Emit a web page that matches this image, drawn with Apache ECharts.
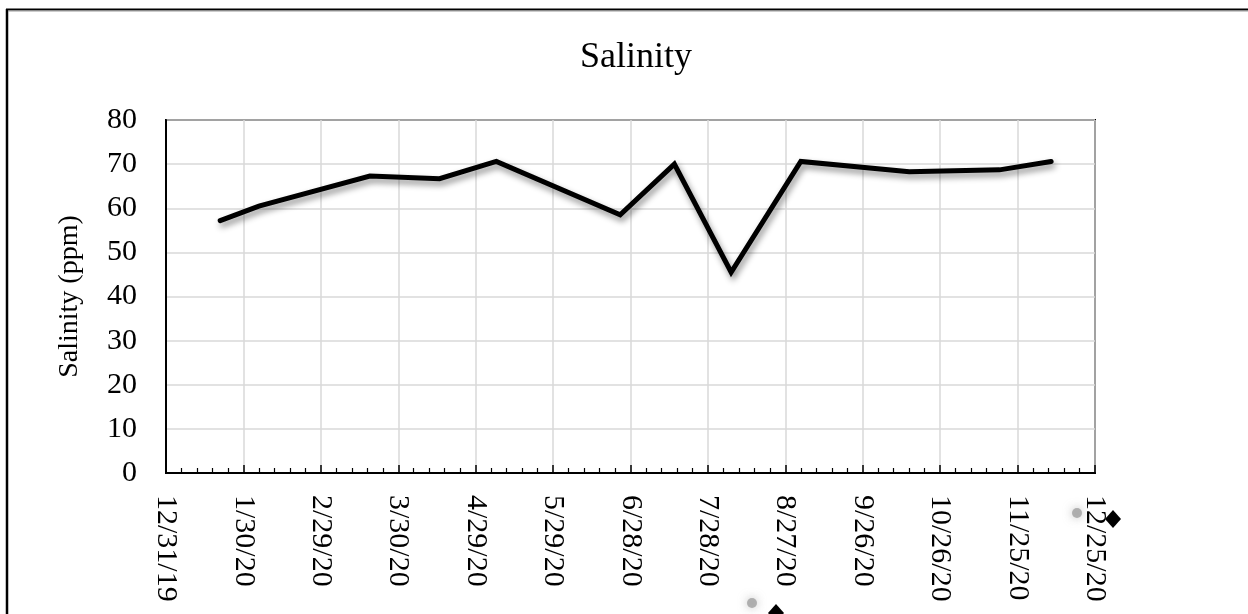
<!DOCTYPE html>
<html>
<head>
<meta charset="utf-8">
<script src="https://cdn.jsdelivr.net/npm/echarts@6/dist/echarts.min.js"></script>
<style>
  html, body { margin: 0; padding: 0; background: #fff; }
  #chart { width: 1248px; height: 614px; }
</style>
</head>
<body>
<div id="chart"></div>
<script>
// sample dates and readings
const startDate = '2019-12-31';
const sampleDates = ['2020-01-21', '2020-02-05', '2020-03-19', '2020-04-15', '2020-05-07', '2020-06-24',
  '2020-07-15', '2020-08-06', '2020-09-02', '2020-10-14', '2020-11-18', '2020-12-08'];
const salinity = [57.2, 60.5, 67.3, 66.7, 70.6, 58.5, 70.0, 45.5, 70.6, 68.3, 68.7, 70.6];

// tick labels on the date axis (every 30 days)
const xTickLabels = ['12/31/19', '1/30/20', '2/29/20', '3/30/20', '4/29/20', '5/29/20', '6/28/20',
  '7/28/20', '8/27/20', '9/26/20', '10/26/20', '11/25/20', '12/25/20'];
const tickDays = 30;
const yTicks = [0, 10, 20, 30, 40, 50, 60, 70, 80];

const DAY = 86400000;
function dayOf(s) {
  return (Date.parse(s) - Date.parse(startDate)) / DAY;
}
const points = sampleDates.map((d, i) => [dayOf(d), salinity[i]]);

const font = '"Liberation Serif", "Times New Roman", serif';
let myChart = echarts.init(document.getElementById('chart'));

let option = {
  backgroundColor: '#fff',
  animation: false,
  title: {
    text: 'Salinity',
    left: 631,
    top: 35,
    textAlign: 'center',
    textStyle: { fontFamily: font, fontSize: 36, fontWeight: 'normal', color: '#000' }
  },
  grid: {
    left: 166, right: 153, top: 120, bottom: 141,
    show: true, borderColor: '#000', borderWidth: 2, backgroundColor: '#fff'
  },
  xAxis: {
    type: 'value',
    min: 0,
    max: tickDays * (xTickLabels.length - 1),
    interval: tickDays,
    axisLine: { lineStyle: { color: '#000', width: 2 } },
    axisTick: { show: true, inside: true, length: 8, lineStyle: { color: '#000', width: 1.5 } },
    minorTick: { show: true, splitNumber: 5, length: 5, lineStyle: { color: '#000', width: 1.2 } },
    splitLine: { show: true, lineStyle: { color: '#d9d9d9', width: 1.5 } },
    axisLabel: {
      rotate: -90,
      margin: 22,
      fontFamily: font,
      fontSize: 30,
      color: '#000',
      formatter: v => xTickLabels[Math.round(v / tickDays)] || ''
    }
  },
  yAxis: {
    type: 'value',
    min: yTicks[0],
    max: yTicks[yTicks.length - 1],
    interval: 10,
    name: 'Salinity (ppm)',
    nameLocation: 'middle',
    nameGap: 82,
    nameTextStyle: { fontFamily: font, fontSize: 28, color: '#000' },
    axisLine: { show: true, lineStyle: { color: '#000', width: 2 } },
    axisTick: { show: false },
    splitLine: { show: true, lineStyle: { color: '#d9d9d9', width: 1.5 } },
    axisLabel: { margin: 29, fontFamily: font, fontSize: 30, color: '#000' }
  },
  series: [
    {
      type: 'line',
      data: points,
      symbol: 'none',
      lineStyle: {
        color: '#000',
        width: 5,
        cap: 'round',
        join: 'miter',
        shadowColor: 'rgba(0,0,0,0.45)',
        shadowBlur: 6,
        shadowOffsetX: 2,
        shadowOffsetY: 4
      }
    }
  ],
  graphic: [
    // outer frame (left and top edges)
    { type: 'line', shape: { x1: 7, y1: 9, x2: 7, y2: 614 }, style: { stroke: '#000', lineWidth: 2.5 } },
    { type: 'line', shape: { x1: 6, y1: 9.5, x2: 1248, y2: 9.5 }, style: { stroke: '#000', lineWidth: 2 } },
    { type: 'line', shape: { x1: 8, y1: 11, x2: 1248, y2: 11 }, style: { stroke: '#999', lineWidth: 1 } },
    // stray marker artifacts
    { type: 'circle', shape: { cx: 1077, cy: 513, r: 5 }, style: { fill: 'rgba(150,150,150,0.7)', shadowBlur: 10, shadowColor: 'rgba(150,150,150,0.9)' } },
    { type: 'polygon', shape: { points: [[1113, 510], [1121, 519], [1113, 528], [1105, 519]] }, style: { fill: '#000' } },
    { type: 'circle', shape: { cx: 752, cy: 603, r: 5 }, style: { fill: 'rgba(150,150,150,0.7)', shadowBlur: 10, shadowColor: 'rgba(150,150,150,0.9)' } },
    { type: 'polygon', shape: { points: [[776, 604], [784, 613], [776, 622], [768, 613]] }, style: { fill: '#000' } }
  ]
};
myChart.setOption(option);
</script>
</body>
</html>
